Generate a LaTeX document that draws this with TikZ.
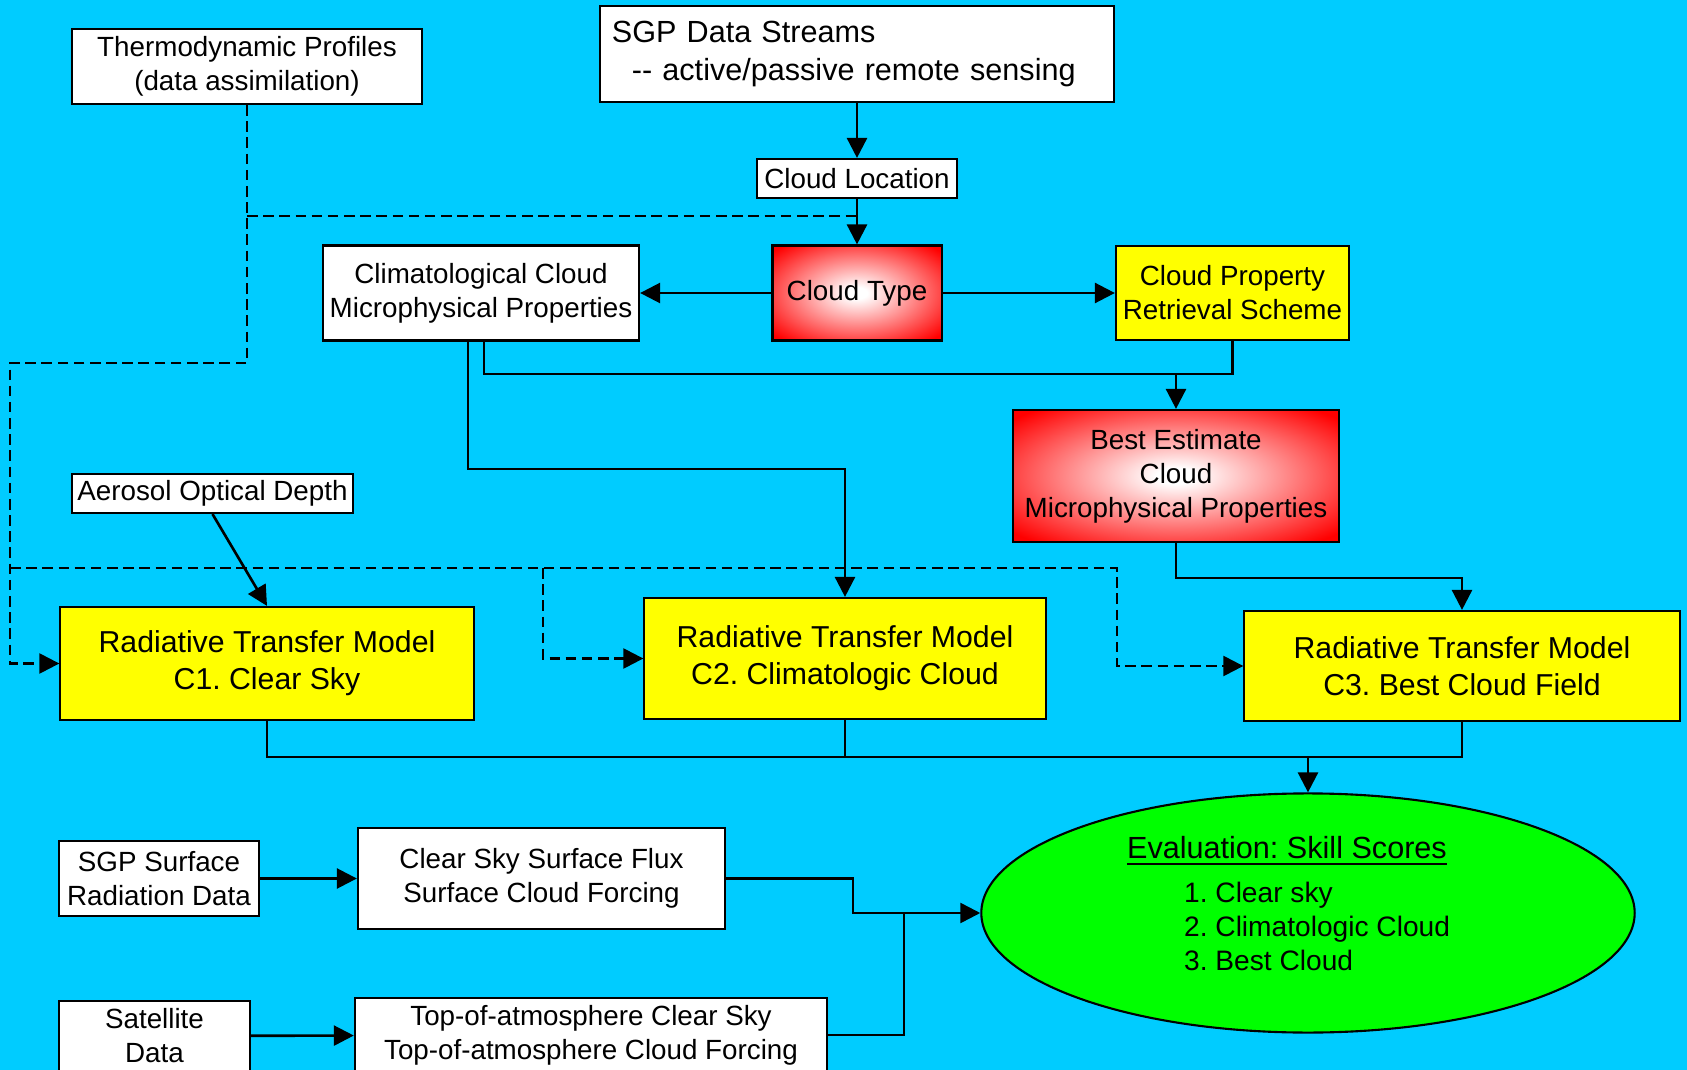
\documentclass[tikz,border=0pt]{standalone}
\usepackage{fontspec}
\setmainfont{Liberation Sans}
\usetikzlibrary{arrows.meta,positioning,calc,shapes.geometric}
\definecolor{skyback}{RGB}{0,204,255}
\definecolor{boxyellow}{RGB}{255,255,0}
\definecolor{evalgreen}{RGB}{0,255,0}
\pgfdeclareradialshading{redglow}{\pgfpoint{0bp}{0bp}}{color(0bp)=(white); color(3bp)=(white); color(33bp)=(red); color(50bp)=(red)}
\frenchspacing

\begin{document}
\begin{tikzpicture}[x=0.01cm, y=-0.01cm,
  every node/.style={font=\fontsize{7.9}{9.7}\selectfont, inner sep=0pt, align=center},
  box/.style={draw, line width=0.6pt, fill=white},
  ybox/.style={box, fill=boxyellow},
  rbox/.style={draw, line width=0.6pt, shading=redglow},
  big/.style={font=\fontsize{8.6}{10.6}\selectfont},
  ln/.style={line width=0.75pt},
  arr/.style={ln, -{Triangle[length=0.2cm,width=0.2cm]}},
  dashln/.style={line width=0.7pt, dash pattern=on 3pt off 1.6pt},
  dasharr/.style={dashln, -{Triangle[length=0.2cm,width=0.2cm]}}]
\useasboundingbox (0,0) rectangle (1687,1070);
\fill[skyback] (0,0) rectangle (1687,1070);
% inputs at the top
\node[box, minimum width=3.49cm, minimum height=0.75cm] (thermo) at (247,66.5) {Thermodynamic Profiles\\(data assimilation)};
\node[box, font=\fontsize{8.7}{10.7}\selectfont, align=left, text width=4.9cm, inner xsep=0.12cm, minimum height=0.96cm] (sgp) at (857,54) {SGP Data Streams\\\hspace*{0.2cm}-{}- active/passive remote sensing};
\node[box, minimum width=2.0cm, minimum height=0.39cm] (cloudloc) at (857,178.5) {Cloud Location};
\node[rbox, minimum width=1.69cm, minimum height=0.95cm] (ctype) at (857,293) {Cloud Type};
\node[box, minimum width=3.16cm, minimum height=0.95cm] (clim) at (481,293) {Climatological Cloud\\Microphysical Properties};
\node[ybox, minimum width=2.33cm, minimum height=0.94cm] (crs) at (1232.5,293) {Cloud Property\\Retrieval Scheme};
\node[rbox, minimum width=3.25cm, minimum height=1.32cm] (best) at (1176,476) {Best Estimate\\Cloud\\Microphysical Properties};
\node[box, minimum width=2.81cm, minimum height=0.39cm] (aod) at (212.5,493.5) {Aerosol Optical Depth};
% the three model runs
\node[ybox, big, minimum width=4.13cm, minimum height=1.13cm] (rtm1) at (267,663.5) {Radiative Transfer Model\\C1. Clear Sky};
\node[ybox, big, minimum width=4.01cm, minimum height=1.21cm] (rtm2) at (845,658.5) {Radiative Transfer Model\\C2. Climatologic Cloud};
\node[ybox, big, minimum width=4.35cm, minimum height=1.10cm] (rtm3) at (1462,666) {Radiative Transfer Model\\C3. Best Cloud Field};
\node[draw, line width=0.6pt, fill=evalgreen, ellipse, minimum width=6.53cm, minimum height=2.39cm, align=left, font=\fontsize{8.0}{9.7}\selectfont] (eval) at (1308,913)
  {{\fontsize{8.7}{10.4}\selectfont\underline{Evaluation: Skill Scores}\hspace*{0.42cm}}\\[0.09cm]
   \hspace*{0.57cm}1. Clear sky\\
   \hspace*{0.57cm}2. Climatologic Cloud\\
   \hspace*{0.57cm}3. Best Cloud\rule[-0.19cm]{0pt}{0.19cm}};
% observations
\node[box, minimum width=2.0cm, minimum height=0.75cm] (sgpsurf) at (159,878.5) {SGP Surface\\Radiation Data};
\node[box, minimum width=3.67cm, minimum height=1.01cm] (csflux) at (541.5,878.5) {Clear Sky Surface Flux\\Surface Cloud Forcing};
\node[box, minimum width=1.91cm, minimum height=0.70cm] (sat) at (154.5,1036) {Satellite\\Data};
\node[box, minimum width=4.72cm, minimum height=0.74cm] (toa) at (591,1035) {Top-of-atmosphere Clear Sky\\Top-of-atmosphere Cloud Forcing};
% bends
\coordinate (jbest) at (1176,374);
\coordinate (jc2) at (845,469);
\coordinate (jc3) at (1462,578);
\coordinate (jeval) at (1308,757);
\coordinate (jflux) at (853,913);
\coordinate (jtoa) at (904,913);
\coordinate (tknee) at (247,363);
\coordinate (lknee) at (10,363);
\coordinate (tct) at (857,216);
\coordinate (dbus) at (10,568);
\coordinate (c2knee) at (543,658.5);
\coordinate (c3knee) at (1117,666);
% solid connectors
\draw[arr] (sgp) -- (cloudloc);
\draw[arr] (cloudloc) -- (ctype);
\draw[arr] (ctype) -- (clim);
\draw[arr] (ctype) -- (crs);
\draw[ln] ($(clim.south)+(3,0)$) |- (jbest) -| (crs.south);
\draw[arr] (jbest) -- (best);
\draw[arr] ($(clim.south)+(-13,0)$) |- (jc2) -- (rtm2);
\draw[arr] (best) |- (jc3) -- (rtm3);
\draw[arr] (aod.south) -- (rtm1.north);
\draw[ln] (rtm1) |- (rtm3.south |- jeval) -- (rtm3);
\draw[ln] (rtm2) -- (rtm2 |- jeval);
\draw[arr] (jeval) -- (eval);
\draw[arr] (sgpsurf) -- (csflux);
\draw[arr] (csflux) -| (jflux) -- (eval);
\draw[ln] (toa) -| (jtoa);
\draw[arr] (sat) -- (toa);
% dashed connectors
\draw[dasharr] (thermo) -- (tknee) -- (lknee) |- (rtm1);
\draw[dashln] (thermo |- tct) -- (tct);
\draw[dasharr] (dbus) -| (c3knee) -- (rtm3);
\draw[dasharr] (c2knee |- dbus) -- (c2knee) -- (rtm2);
\end{tikzpicture}
\end{document}
